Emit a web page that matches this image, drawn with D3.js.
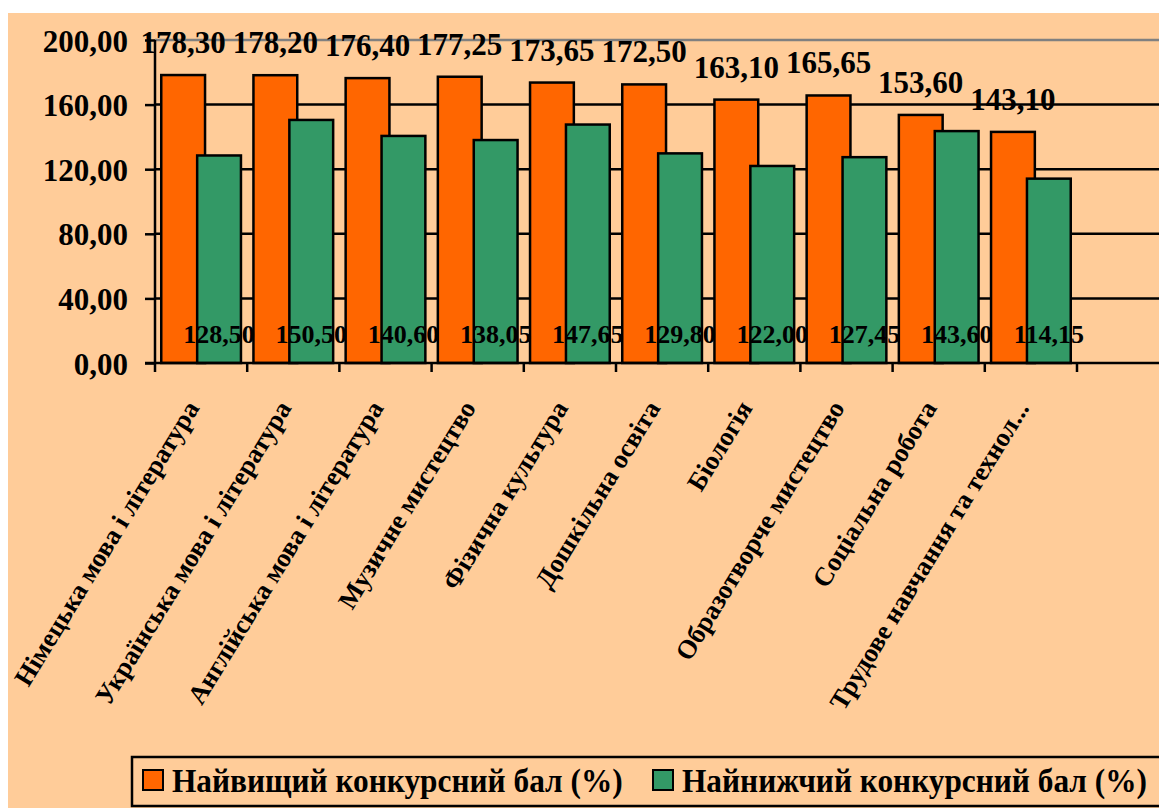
<!DOCTYPE html>
<html>
<head>
<meta charset="utf-8">
<script src="https://cdn.jsdelivr.net/npm/d3@7"></script>
<style>
    html, body { margin: 0; padding: 0; background: #fff; }
    svg text { font-family: "Liberation Serif", "Times New Roman", serif; font-weight: bold; fill: #000; }
</style>
</head>
<body>
<svg id="chart" width="1159" height="808"></svg>
<script>
"use strict";
var categories = ["Німецька мова і література", "Українська мова і література", "Англійська мова і література",
    "Музичне мистецтво", "Фізична культура", "Дошкільна освіта", "Біологія",
    "Образотворче мистецтво", "Соціальна робота", "Трудове навчання та технол..."];
var highest = [178.30, 178.20, 176.40, 177.25, 173.65, 172.50, 163.10, 165.65, 153.60, 143.10];
var lowest = [128.50, 150.50, 140.60, 138.05, 147.65, 129.80, 122.00, 127.45, 143.60, 114.15];
var yTicks = [0, 40, 80, 120, 160, 200];
var seriesNames = ["Найвищий конкурсний бал (%)", "Найнижчий конкурсний бал (%)"];
var colors = ["#FF6600", "#339966"];

(function () {
    var svg = d3.select("#chart");
    var fmt = function (v) { return d3.format(".2f")(v).replace(".", ","); };

    // chart background
    svg.append("rect")
        .attr("x", 8).attr("y", 13)
        .attr("width", 1159).attr("height", 808)
        .attr("fill", "#FFCC99");

    var plotLeft = 155, plotTop = 40, plotBottom = 363, plotRight = 1077;

    var x = d3.scaleBand().domain(d3.range(categories.length)).range([plotLeft, plotRight]).paddingInner(0).paddingOuter(0);
    var y = d3.scaleLinear().domain([0, 200]).range([plotBottom, plotTop]);
    var bw = x.bandwidth();
    var barW = bw * 0.475;
    var overlap = barW * 0.18;
    var gap = bw - (2 * barW - overlap);

    // gridlines
    svg.append("g").selectAll("line").data(yTicks.filter(function (t) { return t > 0; }))
        .enter().append("line")
        .attr("x1", plotLeft).attr("x2", 1165)
        .attr("y1", function (d) { return y(d); })
        .attr("y2", function (d) { return y(d); })
        .attr("stroke", function (d) { return d === 200 ? "#808080" : "#000"; })
        .attr("stroke-width", 2.5);

    // bars
    var rows = categories.map(function (c, i) { return { i: i, hi: highest[i], lo: lowest[i] }; });
    var barG = svg.append("g");
    barG.selectAll(".hi").data(rows).enter().append("rect")
        .attr("class", "hi")
        .attr("x", function (d) { return x(d.i) + gap / 2; })
        .attr("y", function (d) { return y(d.hi); })
        .attr("width", barW)
        .attr("height", function (d) { return y(0) - y(d.hi); })
        .attr("fill", colors[0]).attr("stroke", "#000").attr("stroke-width", 2.5);
    barG.selectAll(".lo").data(rows).enter().append("rect")
        .attr("class", "lo")
        .attr("x", function (d) { return x(d.i) + gap / 2 + barW - overlap; })
        .attr("y", function (d) { return y(d.lo); })
        .attr("width", barW)
        .attr("height", function (d) { return y(0) - y(d.lo); })
        .attr("fill", colors[1]).attr("stroke", "#000").attr("stroke-width", 2.5);

    // y axis
    var yAxis = svg.append("g")
        .attr("transform", "translate(" + plotLeft + ",0)")
        .call(d3.axisLeft(y).tickValues(yTicks).tickFormat(fmt).tickSize(10).tickPadding(17));
    yAxis.select(".domain").attr("stroke", "#000").attr("stroke-width", 2.5).attr("d", "M0," + plotTop + "V" + plotBottom);
    yAxis.selectAll(".tick line").attr("stroke", "#000").attr("stroke-width", 2.5);
    yAxis.selectAll(".tick text")
        .style("font-size", "31px").attr("dy", "0.36em")
        .style("font-family", "Liberation Serif").style("font-weight", "bold");

    // x axis line + boundary ticks
    svg.append("line")
        .attr("x1", plotLeft - 10).attr("x2", 1165)
        .attr("y1", plotBottom).attr("y2", plotBottom)
        .attr("stroke", "#000").attr("stroke-width", 2.5);
    svg.append("g").selectAll("line").data(d3.range(categories.length + 1))
        .enter().append("line")
        .attr("x1", function (d) { return plotLeft + d * bw; })
        .attr("x2", function (d) { return plotLeft + d * bw; })
        .attr("y1", plotBottom).attr("y2", plotBottom + 9)
        .attr("stroke", "#000").attr("stroke-width", 2.5);

    // category labels
    svg.append("g").selectAll("text").data(rows).enter().append("text")
        .attr("transform", function (d) {
            return "translate(" + (x(d.i) + bw / 2 - 1) + "," + 408 + ") rotate(-58.5)";
        })
        .attr("text-anchor", "end")
        .style("font-size", "26.5px")
        .text(function (d) { return categories[d.i]; });

    // value labels
    svg.append("g").selectAll("text").data(rows).enter().append("text")
        .attr("x", function (d) { return x(d.i) + gap / 2 + barW / 2; })
        .attr("y", function (d) { return y(d.hi) - 22; })
        .attr("text-anchor", "middle")
        .style("font-size", "31px")
        .text(function (d) { return fmt(d.hi); });
    svg.append("g").selectAll("text").data(rows).enter().append("text")
        .attr("x", function (d) { return x(d.i) + gap / 2 + barW - overlap + barW / 2; })
        .attr("y", 343)
        .attr("text-anchor", "middle")
        .style("font-size", "26px")
        .text(function (d) { return fmt(d.lo); });

    // legend
    var legend = svg.append("g");
    legend.append("rect")
        .attr("x", 132).attr("y", 757).attr("width", 1100).attr("height", 49)
        .attr("fill", "none").attr("stroke", "#000").attr("stroke-width", 2.5);
    var legX = [143, 653];
    var items = legend.selectAll(".item").data(seriesNames).enter().append("g")
        .attr("transform", function (d, i) { return "translate(" + legX[i] + ",770)"; });
    items.append("rect")
        .attr("width", 20).attr("height", 20)
        .attr("fill", function (d, i) { return colors[i]; })
        .attr("stroke", "#000").attr("stroke-width", 2);
    items.append("text")
        .attr("transform", "translate(29,22) scale(0.95,1)")
        .style("font-size", "33px")
        .text(function (d) { return d; });
})();
</script>
</body>
</html>
